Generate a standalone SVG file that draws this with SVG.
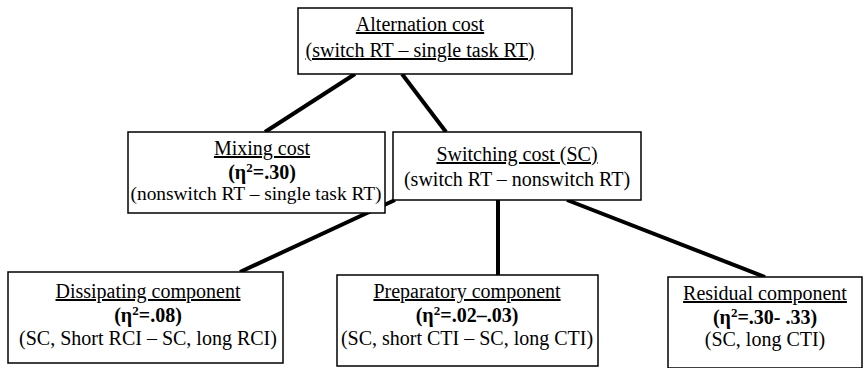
<svg xmlns="http://www.w3.org/2000/svg" width="866" height="368" viewBox="0 0 866 368">
<style>
.box{fill:#fff;stroke:#000;stroke-width:1.5}
.t{font-family:"Liberation Serif","Times New Roman",serif;font-size:20px;fill:#000;text-anchor:middle}
.s{font-size:19.4px}
.u{text-decoration:underline}
.b{font-weight:bold}
.c{stroke:#000;stroke-width:4;fill:none}
</style>
<rect width="866" height="368" fill="#fff"/>
<g id="connectors">
<line class="c" x1="355" y1="74" x2="265" y2="132"/>
<line class="c" x1="402" y1="74" x2="446" y2="132"/>
<line class="c" x1="395" y1="200" x2="240" y2="272"/>
<line class="c" x1="498" y1="200" x2="498" y2="275"/>
<line class="c" x1="567" y1="200" x2="765" y2="277"/>
</g>
<g id="alternation">
<rect class="box" x="298" y="8" width="274" height="66"/>
<text class="t u" x="420" y="31">Alternation cost</text>
<text class="t u" x="420" y="57">(switch RT – single task RT)</text>
</g>
<g id="mixing">
<rect class="box" x="128" y="132" width="257" height="81"/>
<text class="t u" x="262" y="155">Mixing cost</text>
<text class="t b" x="262" y="179">(η<tspan font-size="13" dy="-7">2</tspan><tspan dy="7">=.30)</tspan></text>
<text class="t s" x="256" y="200">(nonswitch RT – single task RT)</text>
</g>
<g id="switching">
<rect class="box" x="393" y="132" width="248" height="68"/>
<text class="t u" x="517" y="161">Switching cost (SC)</text>
<text class="t" x="517" y="186">(switch RT – nonswitch RT)</text>
</g>
<g id="dissipating">
<rect class="box" x="8" y="272" width="275" height="91"/>
<text class="t u" x="148" y="298">Dissipating component</text>
<text class="t b" x="148" y="322">(η<tspan font-size="13" dy="-7">2</tspan><tspan dy="7">=.08)</tspan></text>
<text class="t" x="148" y="345">(SC, Short RCI – SC, long RCI)</text>
</g>
<g id="preparatory">
<rect class="box" x="337" y="275" width="261" height="91"/>
<text class="t u" x="467" y="298">Preparatory component</text>
<text class="t b" x="467" y="322">(η<tspan font-size="13" dy="-7">2</tspan><tspan dy="7">=.02–.03)</tspan></text>
<text class="t" x="467" y="345">(SC, short CTI – SC, long CTI)</text>
</g>
<g id="residual">
<rect class="box" x="668" y="277" width="194" height="91"/>
<text class="t u" x="765" y="300">Residual component</text>
<text class="t b" x="765" y="324">(η<tspan font-size="13" dy="-7">2</tspan><tspan dy="7">=.30- .33)</tspan></text>
<text class="t" x="765" y="346">(SC, long CTI)</text>
</g>
</svg>
